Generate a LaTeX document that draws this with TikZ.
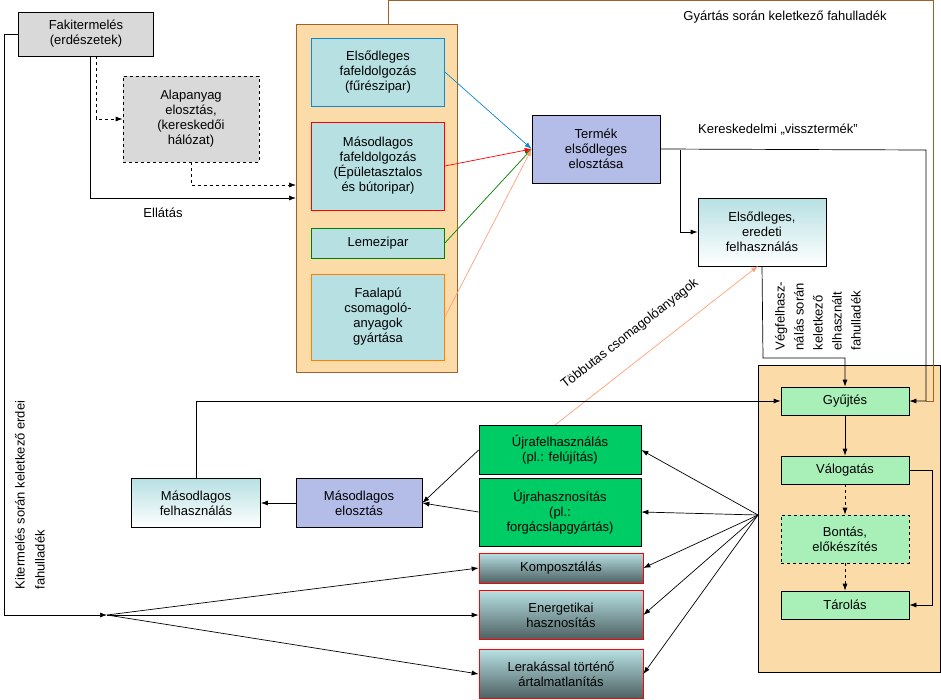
\documentclass[tikz,border=0pt]{standalone}
\usepackage{fontspec}
\setmainfont{Liberation Sans}
\usetikzlibrary{arrows.meta}
\definecolor{boxcyan}{HTML}{B7E0E3}
\definecolor{boxgray}{HTML}{D9D9D9}
\definecolor{boxlav}{HTML}{B4BDE8}
\definecolor{boxgreen}{HTML}{00CC66}
\definecolor{boxlgreen}{HTML}{A8F0B8}
\definecolor{grpfill}{HTML}{FBDCA8}
\definecolor{grpbrown}{HTML}{A0602A}
\definecolor{darkbox}{HTML}{4D6062}
\definecolor{lightorange}{HTML}{FFA07A}
\tikzset{
  box/.style={draw=black,align=center,inner sep=1pt,font=\fontsize{13}{15}\selectfont},
  fade/.style={box,top color=boxcyan,bottom color=white},
  dark/.style={box,draw=red,top color=boxcyan,bottom color=darkbox},
  lbl/.style={font=\fontsize{13}{15}\selectfont,align=center},
  arr/.style={-{Latex[length=7pt,width=5pt]}}
}
\begin{document}
\begin{tikzpicture}[x=1pt,y=-1pt,line width=0.7pt]
\useasboundingbox (0,0) rectangle (941,699);
% groups
\draw[grpbrown,fill=grpfill] (296,24) rectangle (457,372);
\draw[fill=grpfill] (758,365) rectangle (940,672);

% upper part
\node[box,fill=boxgray,minimum width=135,minimum height=44] (fakit) at (86,34) {Fakitermelés\\(erdészetek)};
\node[box,dashed,fill=boxgray,minimum width=136,minimum height=86] (alap) at (191,119) {Alapanyag\\elosztás,\\(kereskedői\\hálózat)};
\node[box,draw=cyan!70!blue,fill=boxcyan,minimum width=133,minimum height=68] (elso) at (378,72) {Elsődleges\\fafeldolgozás\\(fűrészipar)};
\node[box,draw=red,fill=boxcyan,minimum width=133,minimum height=88] (maso) at (378,166) {Másodlagos\\fafeldolgozás\\(Épületasztalos\\és bútoripar)};
\node[box,draw=green!50!black,fill=boxcyan,minimum width=133,minimum height=30] (lemez) at (378,243) {Lemezipar};
\node[box,draw=orange,fill=boxcyan,minimum width=133,minimum height=86] (faal) at (378,317) {Faalapú\\csomagoló-\\anyagok\\gyártása};
\node[box,fill=boxlav,minimum width=128,minimum height=68] (termek) at (596,149) {Termék\\elsődleges\\elosztása};
\node[fade,minimum width=128,minimum height=68] (eredeti) at (762,232) {Elsődleges,\\eredeti\\felhasználás};

% right group
\node[box,fill=boxlgreen,minimum width=128,minimum height=28] (gyujt) at (845,401) {Gyűjtés};
\node[box,fill=boxlgreen,minimum width=128,minimum height=28] (valog) at (845,470) {Válogatás};
\node[box,dashed,fill=boxlgreen,minimum width=128,minimum height=48] (bont) at (845,539) {Bontás,\\előkészítés};
\node[box,fill=boxlgreen,minimum width=128,minimum height=28] (tarol) at (845,605) {Tárolás};
\coordinate (src) at (758,515);

% lower part
\node[box,fill=boxgreen,minimum width=162,minimum height=49] (ujraf) at (560,450) {Újrafelhasználás\\(pl.: felújítás)};
\node[box,fill=boxgreen,minimum width=162,minimum height=68] (ujrah) at (560,512) {Újrahasznosítás\\(pl.:\\forgácslapgyártás)};
\node[dark,minimum width=164,minimum height=30] (kompo) at (561,568) {Komposztálás};
\node[dark,minimum width=164,minimum height=49] (energ) at (561,615) {Energetikai\\hasznosítás};
\node[dark,minimum width=164,minimum height=49] (lerak) at (561,674) {Lerakással történő\\ártalmatlanítás};
\node[box,fill=boxlav,minimum width=126,minimum height=49] (melo) at (359,503) {Másodlagos\\elosztás};
\node[fade,minimum width=129,minimum height=49] (mfel) at (196,503) {Másodlagos\\felhasználás};
\coordinate (fan) at (107,615);
\coordinate (pack) at (555,425);
\coordinate (use) at (758,266);

% connectors
\draw[arr] (fakit.south) ++(4,0) |- (296,198);
\draw[arr,dashed] (fakit.south) ++(10,0) |- (alap.west);
\draw[arr,dashed] (alap.south) |- (296,185);
\draw[arr] (fakit.west) -- (4,34) |- (fan);
\draw[arr] (fan) -- (kompo.west);
\draw[arr] (fan) -- (energ.west);
\draw[arr] (fan) -- (lerak.west);
\draw[arr,cyan!70!blue] (elso.east) -- (termek.west);
\draw[arr,red] (maso.east) -- (termek.west);
\draw[arr,green!50!black] (lemez.east) -- (termek.west);
\draw[arr,lightorange] (faal.east) -- (termek.west);
\draw[grpbrown] (388,24) -- (388,0.5) -- (933,0.5) -- (933,401) -- (926,401);
\draw[arr] (termek.east) -- (926,150) |- (gyujt.east);
\draw[arr] (680,150) |- (eredeti.west);
\draw[arr] (eredeti.south) -- (763,358) -| (gyujt.north);
\draw[arr,lightorange] (pack) -- (use);
\draw[arr] (mfel.north) |- (gyujt.west);
\draw[arr] (gyujt) -- (valog);
\draw[arr,dashed] (valog) -- (bont);
\draw[arr,dashed] (bont) -- (tarol);
\draw[arr] (valog.east) -- (932,470) |- (tarol.east);
\foreach \t in {ujraf,ujrah,kompo,energ,lerak}
  \draw[arr] (src) -- (\t.east);
\draw[arr] (ujraf.west) -- (melo.east);
\draw[arr] (ujrah.west) -- (melo.east);
\draw[arr] (melo) -- (mfel);

% labels
\node[lbl] (l1) at (163,213) {Ellátás};
\node[lbl] (l2) at (785,17) {Gyártás során keletkező fahulladék};
\node[lbl] (l3) at (778,130) {Kereskedelmi „vissztermék”};
\node[lbl,rotate=90,align=left,font=\fontsize{13}{19}\selectfont] (l4) at (818,316) {Végfelhasz-\\nálás során\\keletkező\\elhasznált\\fahulladék};
\node[lbl,rotate=90,align=left,font=\fontsize{13}{20}\selectfont] (l5) at (30,495) {Kitermelés során keletkező erdei\\fahulladék};
\node[lbl,rotate=38] (l6) at (630,334) {Többutas csomagolóanyagok};
\end{tikzpicture}
\end{document}
